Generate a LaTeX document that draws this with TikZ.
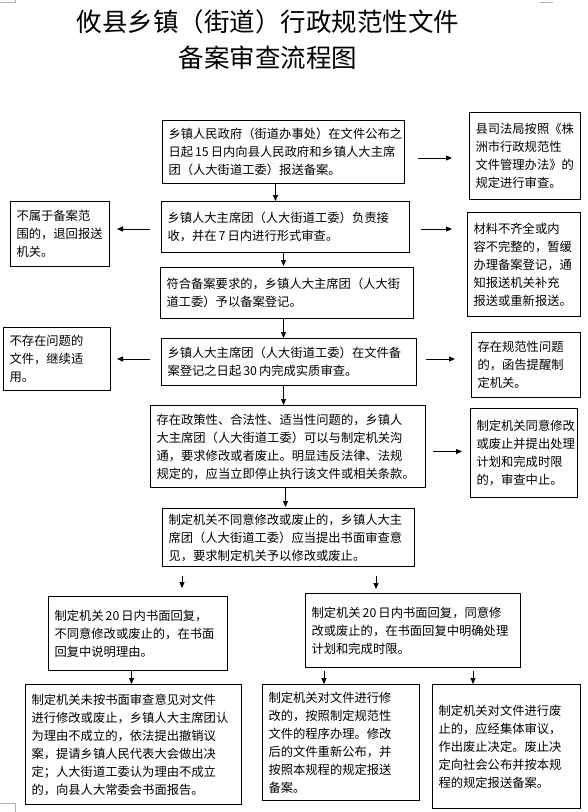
\documentclass[tikz,border=0pt]{standalone}
\usepackage{fontspec}
\setmainfont{Noto Sans CJK SC}
\usetikzlibrary{arrows.meta, positioning}

\begin{document}
\begin{tikzpicture}[x=1pt, y=-1pt,
  box/.style={rectangle, draw=black, line width=1pt, anchor=north west, align=left,
              inner xsep=6pt, inner ysep=2pt, font=\fontsize{12.3}{18}\selectfont},
  arr/.style={-{Triangle[length=6pt, width=5pt]}, line width=0.9pt},
  crop/.style={draw=black!30, line width=0.8pt}]
  \useasboundingbox (0,0) rectangle (588,812);
  \draw[crop] (0,2) -- (15,2) -- (15,0);
  \draw[crop] (540,2) -- (553,2);
  \draw[crop] (0,803) -- (15,803) -- (15,812);
  \node[font=\fontsize{25.5}{36}\selectfont, align=center] (title) at (268,40)
    {攸县乡镇（街道）行政规范性文件\\备案审查流程图};
  % main column
  \node[box, minimum width=242, minimum height=63, text width=230pt] (submit) at (162,120)
    {乡镇人民政府（街道办事处）在文件公布之\\日起\,15\,日内向县人民政府和乡镇人大主席\\团（人大街道工委）报送备案。};
  \node[box, minimum width=111, minimum height=87, text width=99pt] (guide) at (469,112)
    {县司法局按照《株\\洲市行政规范性\\文件管理办法》的\\规定进行审查。};
  \node[box, minimum width=248, minimum height=51, text width=236pt] (formal) at (161,201)
    {乡镇人大主席团（人大街道工委）负责接\\收，并在\,7\,日内进行形式审查。};
  \node[box, minimum width=99, minimum height=65, text width=87pt] (reject) at (10,201)
    {不属于备案范\\围的，退回报送\\机关。};
  \node[box, minimum width=113, minimum height=104, text width=101pt] (supply) at (467,212)
    {材料不齐全或内\\容不完整的，暂缓\\办理备案登记，通\\知报送机关补充\\报送或重新报送。};
  \node[box, minimum width=253, minimum height=51, text width=241pt] (register) at (160,267)
    {符合备案要求的，乡镇人大主席团（人大街\\道工委）予以备案登记。};
  \node[box, minimum width=255, minimum height=47, text width=243pt] (substance) at (161,338)
    {乡镇人大主席团（人大街道工委）在文件备\\案登记之日起\,30\,内完成实质审查。};
  \node[box, minimum width=107, minimum height=63, text width=95pt] (keep) at (3,327)
    {不存在问题的\\文件，继续适\\用。};
  \node[box, minimum width=109, minimum height=65, text width=97pt] (remind) at (471,332)
    {存在规范性问题\\的，函告提醒制\\定机关。};
  \node[box, minimum width=275, minimum height=82, text width=263pt] (consult) at (150,405)
    {存在政策性、合法性、适当性问题的，乡镇人\\大主席团（人大街道工委）可以与制定机关沟\\通，要求修改或者废止。明显违反法律、法规\\规定的，应当立即停止执行该文件或相关条款。};
  \node[box, minimum width=107, minimum height=89, text width=95pt] (suspend) at (470,408)
    {制定机关同意修改\\或废止并提出处理\\计划和完成时限\\的，审查中止。};
  \node[box, minimum width=252, minimum height=58, text width=240pt] (opinion) at (162,508)
    {制定机关不同意修改或废止的，乡镇人大主\\席团（人大街道工委）应当提出书面审查意\\见，要求制定机关予以修改或废止。};
  % replies
  \node[box, minimum width=179, minimum height=74, text width=167pt] (refuse) at (48,596)
    {制定机关\,20\,日内书面回复，\\不同意修改或废止的，在书面\\回复中说明理由。};
  \node[box, minimum width=215, minimum height=74, text width=203pt] (agree) at (305,593)
    {制定机关\,20\,日内书面回复，同意修\\改或废止的，在书面回复中明确处理\\计划和完成时限。};
  \node[box, minimum width=216, minimum height=120, text width=204pt] (revoke) at (25,684)
    {制定机关未按书面审查意见对文件\\进行修改或废止，乡镇人大主席团认\\为理由不成立的，依法提出撤销议\\案，提请乡镇人民代表大会做出决\\定；人大街道工委认为理由不成立\\的，向县人大常委会书面报告。};
  \node[box, minimum width=157, minimum height=116, text width=145pt] (amend) at (262,684)
    {制定机关对文件进行修\\改的，按照制定规范性\\文件的程序办理。修改\\后的文件重新公布，并\\按照本规程的规定报送\\备案。};
  \node[box, minimum width=148, minimum height=124, text width=136pt] (abolish) at (432,684)
    {制定机关对文件进行废\\止的，应经集体审议，\\作出废止决定。废止决\\定向社会公布并按本规\\程的规定报送备案。};
  % connectors
  \draw[arr, shorten <=13pt, shorten >=17pt] ([yshift=-6pt]submit.east) -- ([yshift=-6pt]submit.east -| guide.west);
  \draw[arr] ([xshift=-8pt]submit.south) -- ([xshift=-8pt]submit.south |- formal.north);
  \draw[arr, shorten <=11pt, shorten >=7pt] ([yshift=-2pt]formal.west) -- ([yshift=-2pt]formal.west -| reject.east);
  \draw[arr, shorten <=11pt, shorten >=15pt] ([yshift=-2pt]formal.east) -- ([yshift=-2pt]formal.east -| supply.west);
  \draw[arr, shorten >=1pt] ([xshift=-2pt]formal.south) -- ([xshift=-2pt]formal.south |- register.north);
  \draw[arr] ([xshift=-3.5pt]register.south) -- ([xshift=-3.5pt]register.south |- substance.north);
  \draw[arr, shorten <=11pt, shorten >=6pt] ([yshift=3pt]substance.west) -- ([yshift=3pt]substance.west -| keep.east);
  \draw[arr, shorten <=9pt, shorten >=16pt] ([yshift=3pt]substance.east) -- ([yshift=3pt]substance.east -| remind.west);
  \draw[arr] ([xshift=-5.5pt]substance.south) -- ([xshift=-5.5pt]substance.south |- consult.north);
  \draw[arr, shorten <=7pt, shorten >=8pt] ([yshift=-5pt]consult.east) -- ([yshift=-5pt]consult.east -| suspend.west);
  \draw[arr, shorten >=1pt] ([xshift=-2.5pt]consult.south) -- ([xshift=-2.5pt]consult.south |- opinion.north);
  \draw[arr, shorten <=9pt, shorten >=8pt] ([xshift=20pt]opinion.south west) -- ([xshift=20pt]opinion.south west |- refuse.north);
  \draw[arr, shorten <=9pt, shorten >=4pt] ([xshift=-39pt]opinion.south east) -- ([xshift=-39pt]opinion.south east |- agree.north);
  \draw[arr] ([xshift=-6.5pt]refuse.south) -- ([xshift=-6.5pt]refuse.south |- revoke.north);
  \draw[arr, shorten <=3pt] ([xshift=19pt]agree.south west) -- ([xshift=19pt]agree.south west |- amend.north);
  \draw[arr, shorten <=3pt] ([xshift=-48pt]agree.south east) -- ([xshift=-48pt]agree.south east |- abolish.north);
\end{tikzpicture}
\end{document}
